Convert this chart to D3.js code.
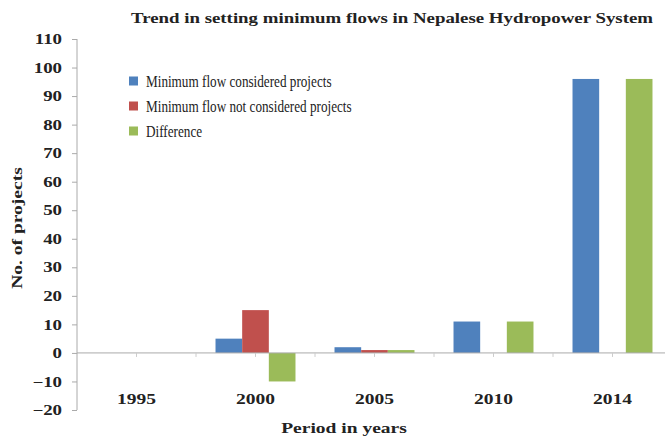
<!DOCTYPE html>
<html><head><meta charset="utf-8">
<script src="https://cdn.jsdelivr.net/npm/d3@7"></script>
<style>body{margin:0;background:#fff;} svg{display:block;} text{font-family:"Liberation Serif","Times New Roman","DejaVu Serif",serif;}</style>
</head><body>
<svg id="c" width="665" height="440"></svg>
<script>
const categories = ["1995","2000","2005","2010","2014"];
const seriesNames = ["Minimum flow considered projects","Minimum flow not considered projects","Difference"];
const considered = [0, 5, 2, 11, 96];
const notConsidered = [0, 15, 1, 0, 0];
const difference = [0, -10, 1, 11, 96];
const yTicks = [-20,-10,0,10,20,30,40,50,60,70,80,90,100,110];
const colors = ["#4F81BD","#C0504D","#9BBB59"];

const values = [considered, notConsidered, difference];
const svg = d3.select("#c");
const x0 = d3.scaleBand().domain(categories).range([77, 672]).paddingInner(0.328).paddingOuter(0.164);
const x1 = d3.scaleBand().domain(d3.range(3)).range([0, x0.bandwidth()]);
const y = d3.scaleLinear().domain([-20, 110]).range([410, 39]);
function stretch(sel, f) {
  sel.each(function() {
    const w = this.getComputedTextLength();
    this.setAttribute("textLength", w * (f || 1.3));
    this.setAttribute("lengthAdjust", "spacingAndGlyphs");
  });
}

// bars
categories.forEach((c, i) => {
  values.forEach((s, k) => {
    const v = s[i];
    if (v === 0) return;
    svg.append("rect")
      .attr("x", x0(c) + x1(k))
      .attr("y", y(Math.max(0, v)))
      .attr("width", x1.bandwidth())
      .attr("height", Math.abs(y(v) - y(0)))
      .attr("fill", colors[k]);
  });
});

// y axis
const yAxis = d3.axisLeft(y).tickValues(yTicks).tickSize(5).tickPadding(10).tickFormat(d3.format("d"));
const gy = svg.append("g").attr("transform", "translate(77,0)").call(yAxis);
gy.select(".domain").attr("stroke", "#aaa").attr("d", `M0,${y(-20)}V${y(110)}`);
gy.selectAll(".tick line").attr("stroke", "#aaa");
gy.selectAll(".tick text").attr("font-size", 14.5).attr("font-weight", "bold").attr("fill", "#222")
  .attr("font-family", '"Liberation Serif",serif').call(stretch);

// zero line and category ticks
svg.append("line").attr("x1", 77).attr("x2", 665).attr("y1", y(0)).attr("y2", y(0)).attr("stroke", "#aaa");
const tickPos = [];
categories.forEach(c => { tickPos.push(x0(c) + x0.bandwidth()/2); tickPos.push(x0(c) - x0.step()*x0.paddingInner()/2 + x0.step()); });
svg.selectAll(".ct").data(tickPos.filter(p => p < 665)).enter().append("line")
  .attr("x1", d => d).attr("x2", d => d).attr("y1", y(0)).attr("y2", y(0) + 4).attr("stroke", "#ccc");

// category labels
svg.selectAll(".cl").data(categories).enter().append("text")
  .attr("x", d => x0(d) + x0.bandwidth()/2).attr("y", 404)
  .attr("text-anchor", "middle").attr("font-size", 15).attr("font-weight", "bold").attr("fill", "#222")
  .text(d => d).call(stretch);

// titles
svg.append("text").attr("x", 392).attr("y", 23).attr("text-anchor", "middle")
  .attr("font-size", 15).attr("font-weight", "bold").attr("fill", "#222")
  .attr("textLength", 522).attr("lengthAdjust", "spacingAndGlyphs")
  .text("Trend in setting minimum flows in Nepalese Hydropower System");
svg.append("text").attr("x", 344).attr("y", 433).attr("text-anchor", "middle")
  .attr("font-size", 15).attr("font-weight", "bold").attr("fill", "#222").text("Period in years").call(stretch);
svg.append("text").attr("transform", "translate(22,228) rotate(-90)").attr("text-anchor", "middle")
  .attr("font-size", 15).attr("font-weight", "bold").attr("fill", "#222").text("No. of projects").call(stretch);

// legend
const lg = svg.append("g");
seriesNames.forEach((n, k) => {
  const yy = 81 + k * 25;
  lg.append("rect").attr("x", 129).attr("y", yy - 4.5).attr("width", 9).attr("height", 9).attr("fill", colors[k]);
  lg.append("text").attr("x", 146).attr("y", yy + 5.5).attr("font-size", 17)
    .attr("font-family", '"Liberation Serif",serif').attr("fill", "#222").text(n).call(stretch, 0.775);
});
</script>
</body></html>
